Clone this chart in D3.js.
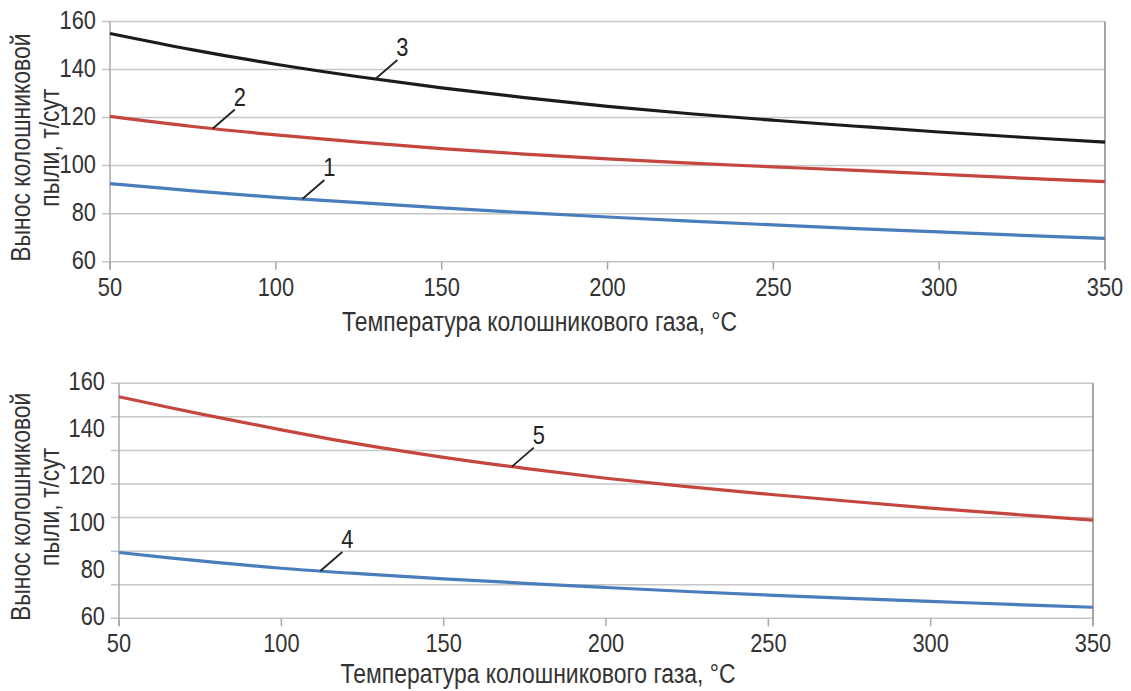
<!DOCTYPE html>
<html>
<head>
  <meta charset="utf-8">
  <script src="https://d3js.org/d3.v7.min.js"></script>
  <style>
    body {
      margin: 0;
      background: #ffffff;
    }
    text {
      font-family: 'Liberation Sans', Arial, sans-serif;
      font-size: 26px;
      fill: #333;
    }
    text.title { font-size: 27px; }
    .grid line { stroke: #c6c6c6; stroke-width: 1.5; }
    .line { fill: none; stroke-width: 3.2; }
  </style>
</head>
<body>
  <div id="chart"></div>
  <script>
    // temperature of top gas, °C
    var temps = [50, 75, 100, 125, 150, 175, 200, 225, 250, 275, 300, 325, 350];

    // top panel
    var curve1 = [92.5, 89.5, 86.8, 84.6, 82.4, 80.4, 78.6, 76.9, 75.3, 73.8, 72.4, 71.0, 69.7];
    var curve2 = [120.5, 116.3, 112.8, 109.8, 107.1, 104.8, 102.8, 101.0, 99.5, 98.0, 96.4, 94.8, 93.3];
    var curve3 = [155.0, 148.2, 142.2, 137.0, 132.4, 128.3, 124.7, 121.6, 118.9, 116.4, 114.0, 111.8, 109.8];

    // bottom panel
    var curve4 = [88.0, 84.4, 81.3, 78.9, 76.8, 74.9, 73.1, 71.4, 69.9, 68.5, 67.2, 65.9, 64.7];
    var curve5 = [154.3, 147.0, 140.2, 133.9, 128.5, 123.8, 119.6, 116.0, 112.8, 109.8, 106.9, 104.3, 101.8];

    var xTicks = [50, 100, 150, 200, 250, 300, 350];
    var yTicks = [60, 80, 100, 120, 140, 160];

    var yTitle = ["Вынос колошниковой", "пыли, т/сут"];
    var xTitle = "Температура колошникового газа, °С";

    var panels = [
      {
        left: 110, right: 1105, top: 21.5, bottom: 261.7, gridCount: 5, titleGap: 60,
        series: [
          { name: "3", values: curve3, color: "#1b1b1b", labelAt: 130 },
          { name: "2", values: curve2, color: "#c4463f", labelAt: 81 },
          { name: "1", values: curve1, color: "#4a7dbb", labelAt: 108 }
        ]
      },
      {
        left: 119, right: 1093, top: 383.3, bottom: 618.3, gridCount: 7, titleGap: 55,
        series: [
          { name: "5", values: curve5, color: "#c4463f", labelAt: 171 },
          { name: "4", values: curve4, color: "#4a7dbb", labelAt: 112 }
        ]
      }
    ];

    var width = 1131, height = 691;

    var svg = d3.select("#chart").append("svg")
      .attr("width", width)
      .attr("height", height);

    // condensed text helper (Arial Narrow look from Liberation Sans)
    function label(g, x, y, str, anchor, rot, squeeze) {
      return g.append("text")
        .attr("transform", "translate(" + x + "," + y + ")" + (rot ? " rotate(" + rot + ")" : "") + " scale(" + (squeeze || 0.84) + ",1)")
        .attr("dy", "0.35em")
        .attr("text-anchor", anchor || "middle")
        .text(str);
    }

    panels.forEach(function (p) {
      var g = svg.append("g");

      var x = d3.scaleLinear().domain([50, 350]).range([p.left, p.right]);
      var y = d3.scaleLinear().domain([60, 160]).range([p.bottom, p.top]);

      // horizontal grid (bottom panel has 7 equal bands)
      var gridVals = d3.range(p.gridCount + 1).map(function (i) { return 60 + i * 100 / p.gridCount; });
      g.append("g").attr("class", "grid")
        .selectAll("line")
        .data(gridVals)
        .enter().append("line")
        .attr("x1", p.left - 8)
        .attr("x2", p.right)
        .attr("y1", function (d) { return y(d); })
        .attr("y2", function (d) { return y(d); });

      // axes frame
      g.append("line")
        .attr("x1", p.left).attr("x2", p.left)
        .attr("y1", p.top).attr("y2", p.bottom + 8)
        .style("stroke", "#a8a8a8").style("stroke-width", 1.5);
      g.append("line")
        .attr("x1", p.right).attr("x2", p.right)
        .attr("y1", p.top).attr("y2", p.bottom + 8)
        .style("stroke", "#8a8a8a").style("stroke-width", 1.5);

      // x ticks
      g.append("g").selectAll("line")
        .data(xTicks)
        .enter().append("line")
        .attr("x1", function (d) { return x(d); })
        .attr("x2", function (d) { return x(d); })
        .attr("y1", p.bottom)
        .attr("y2", p.bottom + 8)
        .style("stroke", "#a8a8a8").style("stroke-width", 1.5);

      xTicks.forEach(function (d) {
        label(g, x(d), p.bottom + 25, d, "middle");
      });

      yTicks.forEach(function (d) {
        label(g, p.left - 14, y(d) - 2, d, "end");
      });

      // axis titles
      var midY = (p.top + p.bottom) / 2 + 6;
      yTitle.forEach(function (t, i) {
        label(g, 21 + i * 29, midY, t, "middle", -90, 0.85).attr("class", "title");
      });

      label(g, (p.left + p.right) / 2 - 68, p.bottom + p.titleGap, xTitle, "middle", 0, 0.85)
        .attr("class", "title");

      // curves
      var line = d3.line()
        .x(function (d, i) { return x(temps[i]); })
        .y(function (d) { return y(d); })
        .curve(d3.curveCatmullRom);

      p.series.forEach(function (s) {
        g.append("path")
          .attr("class", "line")
          .attr("d", line(s.values))
          .style("stroke", s.color);

        // leader + number
        var v = d3.scaleLinear().domain(temps).range(s.values)(s.labelAt);
        var px = x(s.labelAt), py = y(v);
        g.append("line")
          .attr("x1", px).attr("y1", py)
          .attr("x2", px + 22).attr("y2", py - 19)
          .style("stroke", "#222").style("stroke-width", 1.8);
        label(g, px + 27, py - 32, s.name, "middle").style("fill", "#222");
      });
    });
  </script>
</body>
</html>
